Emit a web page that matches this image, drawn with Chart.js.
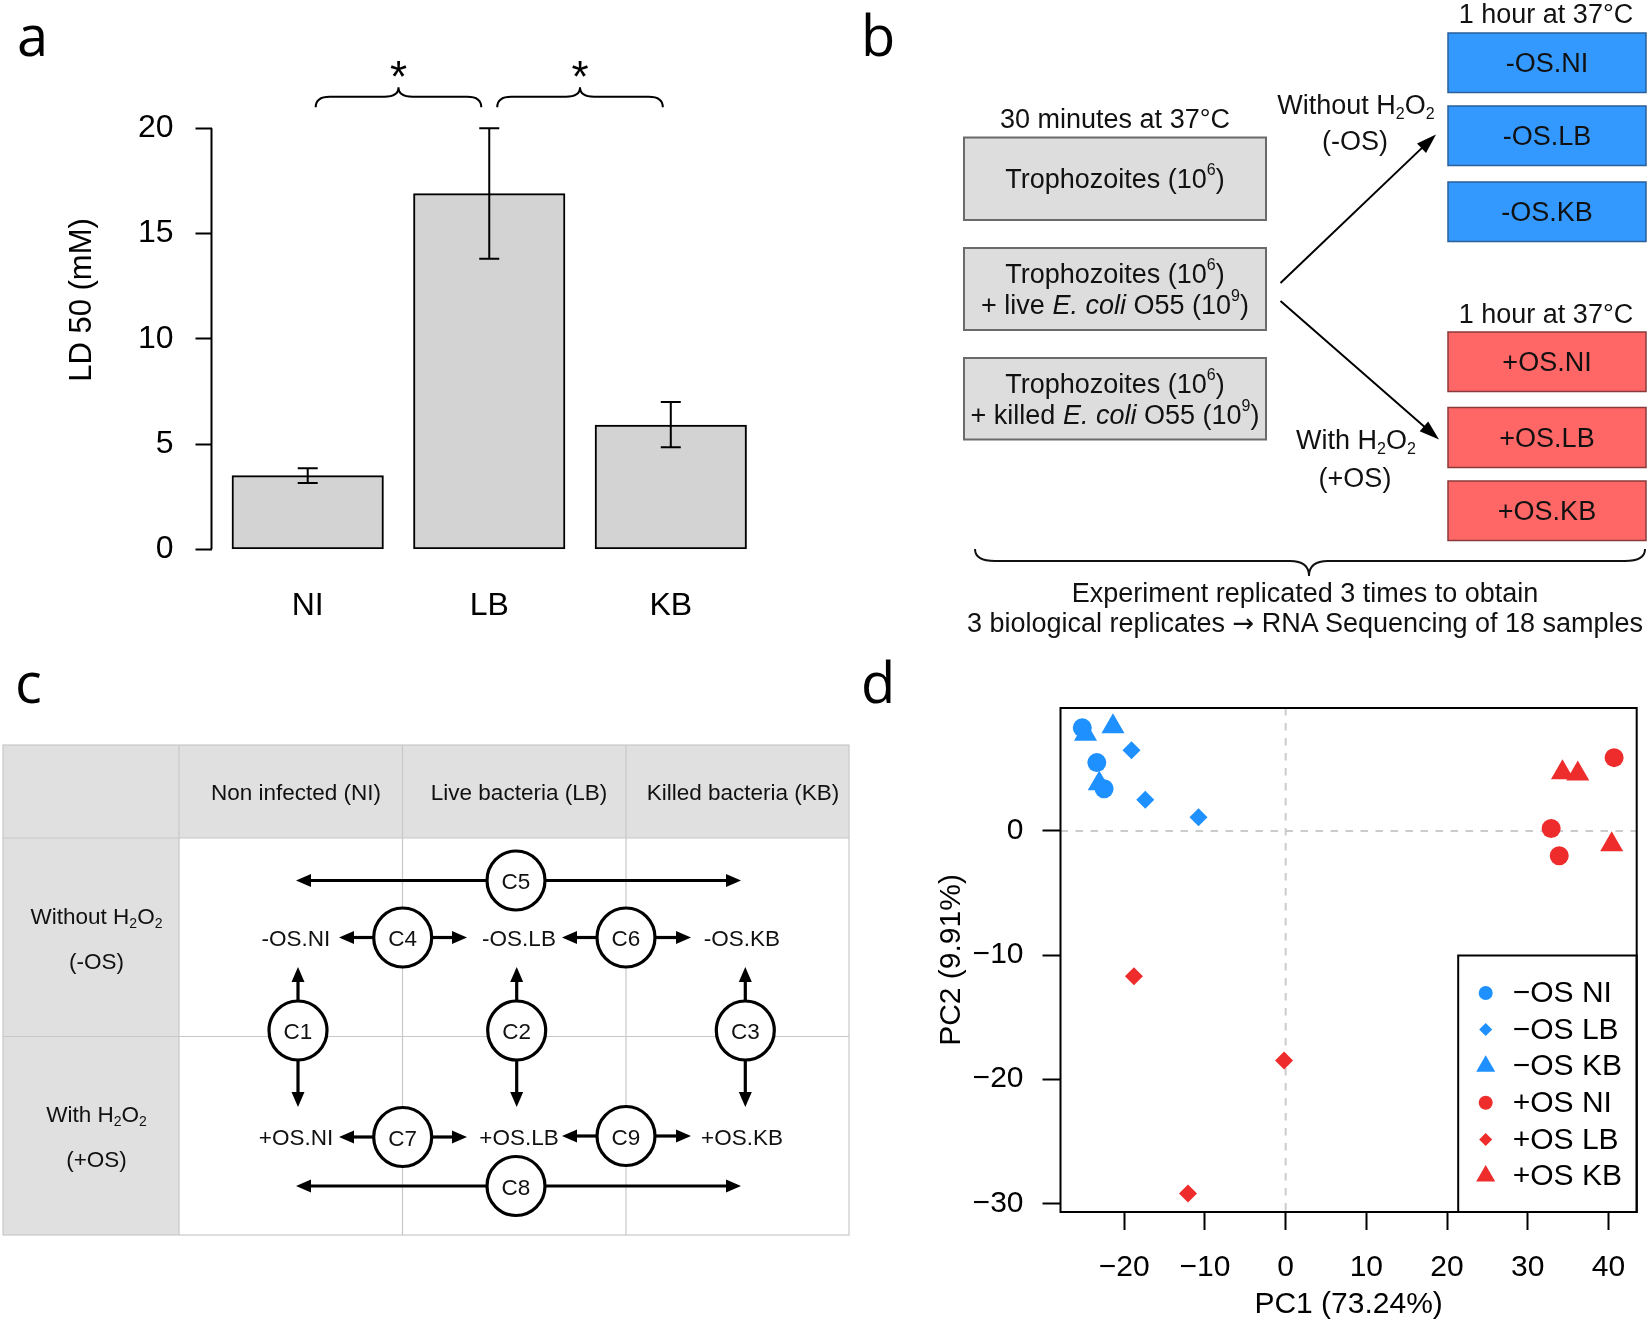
<!DOCTYPE html>
<html><head><meta charset="utf-8">
<script src="https://cdn.jsdelivr.net/npm/chart.js@4.4.1/dist/chart.umd.min.js"></script>
<style>
html,body{margin:0;padding:0;background:#fff;}
#page{position:relative;width:1650px;height:1325px;overflow:hidden;background:#fff;}
canvas{position:absolute;}
#ca{left:0;top:0;}
#cd{left:860px;top:620px;}
#diag{position:absolute;left:0;top:0;}
</style></head><body>
<div id="page">
<canvas id="ca" width="830" height="650"></canvas>
<canvas id="cd" width="790" height="705"></canvas>
<svg id="diag" width="1650" height="1325" xmlns="http://www.w3.org/2000/svg">
 <g font-family="Open Sans, sans-serif" font-size="56" fill="#000">
  <text x="17" y="56">a</text>
  <text x="861" y="56">b</text>
  <text x="15" y="703">c</text>
  <text x="861" y="703">d</text>
 </g>
 <g id="pb" font-family="Liberation Sans, Arial, sans-serif" font-size="27" fill="#111" text-anchor="middle" dominant-baseline="central">
  <text x="1115" y="119">30 minutes at 37°C</text>
  <rect x="964" y="137.5" width="302" height="82.5" fill="#dddddd" stroke="#6a6a6a" stroke-width="2"/>
  <rect x="964" y="248" width="302" height="82" fill="#dddddd" stroke="#6a6a6a" stroke-width="2"/>
  <rect x="964" y="358" width="302" height="81.5" fill="#dddddd" stroke="#6a6a6a" stroke-width="2"/>
  <text x="1115" y="179">Trophozoites (10<tspan font-size="16" dy="-10">6</tspan><tspan dy="10">)</tspan></text>
  <text x="1115" y="274">Trophozoites (10<tspan font-size="16" dy="-10">6</tspan><tspan dy="10">)</tspan></text>
  <text x="1115" y="305">+ live <tspan font-style="italic">E. coli</tspan> O55 (10<tspan font-size="16" dy="-10">9</tspan><tspan dy="10">)</tspan></text>
  <text x="1115" y="384">Trophozoites (10<tspan font-size="16" dy="-10">6</tspan><tspan dy="10">)</tspan></text>
  <text x="1115" y="415">+ killed <tspan font-style="italic">E. coli</tspan> O55 (10<tspan font-size="16" dy="-10">9</tspan><tspan dy="10">)</tspan></text>
  <text x="1356" y="105">Without H<tspan font-size="16" dy="8">2</tspan><tspan dy="-8">O</tspan><tspan font-size="16" dy="8">2</tspan></text>
  <text x="1355" y="141">(-OS)</text>
  <text x="1356" y="440">With H<tspan font-size="16" dy="8">2</tspan><tspan dy="-8">O</tspan><tspan font-size="16" dy="8">2</tspan></text>
  <text x="1355" y="478">(+OS)</text>
  <text x="1546" y="14">1 hour at 37°C</text>
  <text x="1546" y="314">1 hour at 37°C</text>
  <rect x="1448" y="33" width="198" height="59.5" fill="#3399ff" stroke="#2a5f99" stroke-width="1.5"/>
  <rect x="1448" y="106" width="198" height="59.5" fill="#3399ff" stroke="#2a5f99" stroke-width="1.5"/>
  <rect x="1448" y="182" width="198" height="59.5" fill="#3399ff" stroke="#2a5f99" stroke-width="1.5"/>
  <rect x="1448" y="332" width="198" height="59.5" fill="#ff6666" stroke="#8a3a3a" stroke-width="1.5"/>
  <rect x="1448" y="407.5" width="198" height="60" fill="#ff6666" stroke="#8a3a3a" stroke-width="1.5"/>
  <rect x="1448" y="481" width="198" height="59.5" fill="#ff6666" stroke="#8a3a3a" stroke-width="1.5"/>
  <text x="1547" y="63">-OS.NI</text>
  <text x="1547" y="136">-OS.LB</text>
  <text x="1547" y="212">-OS.KB</text>
  <text x="1547" y="362">+OS.NI</text>
  <text x="1547" y="438">+OS.LB</text>
  <text x="1547" y="511">+OS.KB</text>
  <path d="M975 549 Q975 561 995 561 L1290 561 Q1309 561 1309 576 Q1309 561 1328 561 L1625 561 Q1645 561 1645 549" fill="none" stroke="#111" stroke-width="2"/>
  <text x="1305" y="593">Experiment replicated 3 times to obtain</text>
  <text x="1305" y="623">3 biological replicates <tspan font-family="DejaVu Sans" font-size="26">→</tspan> RNA Sequencing of 18 samples</text>
 </g>
 <g id="pc" font-family="Liberation Sans, Arial, sans-serif" font-size="22.5" fill="#111" text-anchor="middle" dominant-baseline="central">
  <rect x="3" y="745" width="846" height="93" fill="#e0e0e0"/>
  <rect x="3" y="838" width="176" height="397" fill="#e0e0e0"/>
  <g stroke="#c8c8c8" stroke-width="1.2" fill="none">
   <rect x="3" y="745" width="846" height="490"/>
   <line x1="179" y1="745" x2="179" y2="1235"/>
   <line x1="402.5" y1="745" x2="402.5" y2="1235"/>
   <line x1="626" y1="745" x2="626" y2="1235"/>
   <line x1="3" y1="838" x2="849" y2="838"/>
   <line x1="3" y1="1036.5" x2="849" y2="1036.5"/>
  </g>
  <text x="296" y="792">Non infected (NI)</text>
  <text x="519" y="792">Live bacteria (LB)</text>
  <text x="743" y="792">Killed bacteria (KB)</text>
  <text x="96.5" y="916">Without H<tspan font-size="14" dy="7">2</tspan><tspan dy="-7">O</tspan><tspan font-size="14" dy="7">2</tspan></text>
  <text x="96.5" y="961">(-OS)</text>
  <text x="96.5" y="1114">With H<tspan font-size="14" dy="7">2</tspan><tspan dy="-7">O</tspan><tspan font-size="14" dy="7">2</tspan></text>
  <text x="96.5" y="1159">(+OS)</text>
  <text x="296" y="938">-OS.NI</text>
  <text x="519" y="938">-OS.LB</text>
  <text x="742" y="938">-OS.KB</text>
  <text x="296" y="1137">+OS.NI</text>
  <text x="519" y="1137">+OS.LB</text>
  <text x="742" y="1137">+OS.KB</text>
 </g>
</svg>
</div>
<script>
// ---------- Panel a data ----------
const categoriesA = ['NI', 'LB', 'KB'];
const barPosA = [0.7, 1.9, 3.1];
const ld50Values = [3.5, 16.9, 5.9];
const ld50ErrLow = [3.15, 13.8, 4.85];
const ld50ErrHigh = [3.85, 20.0, 7.0];
const yTicksA = [0, 5, 10, 15, 20];
const signifPairs = [[0, 1], [1, 2]];

// ---------- Panel d data ----------
const groupLabels = ['\u2212OS NI', '\u2212OS LB', '\u2212OS KB', '+OS NI', '+OS LB', '+OS KB'];
const pc1NegNI = [-25.2, -23.4, -22.5], pc2NegNI = [8.3, 5.5, 3.4];
const pc1NegLB = [-19.1, -17.4, -10.8], pc2NegLB = [6.5, 2.5, 1.1];
const pc1NegKB = [-21.4, -24.8, -23.1], pc2NegKB = [8.4, 7.8, 3.8];
const pc1PosNI = [40.7, 32.9, 33.9], pc2PosNI = [5.9, 0.2, -2.0];
const pc1PosLB = [-18.8, -0.2, -12.1], pc2PosLB = [-11.7, -18.5, -29.2];
const pc1PosKB = [34.3, 36.2, 40.4], pc2PosKB = [4.7, 4.6, -1.1];
const xTicksD = [-20, -10, 0, 10, 20, 30, 40];
const yTicksD = [-30, -20, -10, 0];

const FONT = "'Liberation Sans', Arial, sans-serif";
Chart.defaults.font.family = FONT;
Chart.defaults.color = '#000';
const minus = v => v < 0 ? '\u2212' + Math.abs(v) : String(v);

// ---------- Panel a ----------
const panelAExtras = {
  id: 'panelAExtras',
  afterDatasetsDraw(chart) {
    const { ctx, scales: { x, y }, chartArea } = chart;
    ctx.save();
    ctx.strokeStyle = '#000';
    ctx.lineWidth = 2;
    ctx.beginPath();
    ctx.moveTo(chartArea.left, y.getPixelForValue(yTicksA[0]));
    ctx.lineTo(chartArea.left, y.getPixelForValue(yTicksA[yTicksA.length - 1]));
    ctx.stroke();
    barPosA.forEach((p, i) => {
      const px = x.getPixelForValue(p);
      const lo = y.getPixelForValue(ld50ErrLow[i]);
      const hi = y.getPixelForValue(ld50ErrHigh[i]);
      ctx.beginPath();
      ctx.moveTo(px, lo); ctx.lineTo(px, hi);
      ctx.moveTo(px - 10, lo); ctx.lineTo(px + 10, lo);
      ctx.moveTo(px - 10, hi); ctx.lineTo(px + 10, hi);
      ctx.stroke();
    });
    // significance braces
    const yEnd = y.getPixelForValue(21.0), yFlat = y.getPixelForValue(21.5), yPeak = y.getPixelForValue(21.95);
    const yStar = y.getPixelForValue(22.9);
    signifPairs.forEach(([a, b]) => {
      const x1 = x.getPixelForValue(barPosA[a]) + 8;
      const x2 = x.getPixelForValue(barPosA[b]) - 8;
      const mid = (x.getPixelForValue(barPosA[a]) + x.getPixelForValue(barPosA[b])) / 2;
      const r = 14;
      ctx.beginPath();
      ctx.moveTo(x1, yEnd);
      ctx.quadraticCurveTo(x1, yFlat, x1 + r, yFlat);
      ctx.lineTo(mid - r, yFlat);
      ctx.quadraticCurveTo(mid, yFlat, mid, yPeak);
      ctx.quadraticCurveTo(mid, yFlat, mid + r, yFlat);
      ctx.lineTo(x2 - r, yFlat);
      ctx.quadraticCurveTo(x2, yFlat, x2, yEnd);
      ctx.stroke();
      ctx.fillStyle = '#000';
      ctx.font = '44px ' + FONT;
      ctx.textAlign = 'center';
      ctx.textBaseline = 'alphabetic';
      ctx.fillText('*', mid, yStar + 0.55 * 44);
    });
    ctx.restore();
  }
};

new Chart(document.getElementById('ca'), {
  type: 'bar',
  data: {
    datasets: [{
      data: barPosA.map((p, i) => ({ x: p, y: ld50Values[i] })),
      backgroundColor: '#d3d3d3',
      borderColor: '#000',
      borderWidth: 2,
      borderSkipped: false,
      barThickness: 151.5
    }]
  },
  options: {
    responsive: false, animation: false, events: [],
    layout: { padding: { left: 0, right: 63, top: 50.7, bottom: 0 } },
    plugins: { legend: { display: false }, tooltip: { enabled: false } },
    scales: {
      x: {
        type: 'linear', min: 0.064, max: 3.736, offset: false,
        grid: { display: false, drawTicks: false, offset: false },
        border: { display: false },
        afterBuildTicks: s => { s.ticks = barPosA.map(v => ({ value: v })); },
        afterFit: s => { s.height = 100.7; },
        ticks: { autoSkip: false, maxRotation: 0, padding: 38, font: { size: 32 }, color: '#000',
                 callback: (v, i) => categoriesA[i] }
      },
      y: {
        min: 0, max: 23.69,
        afterBuildTicks: s => { s.ticks = yTicksA.map(v => ({ value: v })); },
        afterFit: s => { s.width = 211.5; },
        grid: { drawOnChartArea: false, drawTicks: true, tickLength: 16, tickWidth: 2, tickColor: '#000' },
        border: { display: false },
        ticks: { padding: 22, font: { size: 32 }, color: '#000' },
        title: { display: true, text: 'LD 50 (mM)', font: { size: 31 }, color: '#000', padding: { top: 63.4, bottom: 0 } }
      }
    }
  },
  plugins: [panelAExtras]
});

// ---------- Panel d ----------
const blue = '#1e90ff', red = '#ee2c2c';
const groups = [
  { xs: pc1NegNI, ys: pc2NegNI, style: 'circle', color: blue, r: 9.5, lr: 7 },
  { xs: pc1NegLB, ys: pc2NegLB, style: 'rectRot', color: blue, r: 9, lr: 6.5 },
  { xs: pc1NegKB, ys: pc2NegKB, style: 'triangle', color: blue, r: 13.3, lr: 11 },
  { xs: pc1PosNI, ys: pc2PosNI, style: 'circle', color: red, r: 9.5, lr: 7 },
  { xs: pc1PosLB, ys: pc2PosLB, style: 'rectRot', color: red, r: 9, lr: 6.5 },
  { xs: pc1PosKB, ys: pc2PosKB, style: 'triangle', color: red, r: 13.3, lr: 11 }
];

const panelDExtras = {
  id: 'panelDExtras',
  beforeDatasetsDraw(chart) {
    const { ctx, scales: { x, y }, chartArea: ca } = chart;
    ctx.save();
    ctx.strokeStyle = '#cccccc';
    ctx.lineWidth = 2;
    ctx.setLineDash([7.5, 7.5]);
    const x0 = x.getPixelForValue(0), y0 = y.getPixelForValue(0);
    ctx.beginPath();
    ctx.moveTo(x0, ca.top); ctx.lineTo(x0, ca.bottom);
    ctx.moveTo(ca.left, y0); ctx.lineTo(ca.right, y0);
    ctx.stroke();
    ctx.restore();
  },
  afterDraw(chart) {
    const { ctx, chartArea: ca } = chart;
    ctx.save();
    const lw = 178.5, lh = 256.5;
    const lx = ca.right - lw, ly = ca.bottom - lh;
    ctx.fillStyle = '#fff';
    ctx.fillRect(lx, ly, lw, lh);
    ctx.strokeStyle = '#000';
    ctx.lineWidth = 2;
    ctx.strokeRect(lx, ly, lw, lh);
    chart.data.datasets.forEach((ds, i) => {
      const cy = ly + 37.5 + i * 36.6;
      ctx.fillStyle = ds.backgroundColor;
      Chart.helpers.drawPoint(ctx, { pointStyle: ds.pointStyle, radius: groups[i].lr, rotation: 0, borderWidth: 0 }, lx + 27.5, cy);
      ctx.fillStyle = '#000';
      ctx.font = '30px ' + FONT;
      ctx.textAlign = 'left';
      ctx.textBaseline = 'middle';
      ctx.fillText(ds.label, lx + 54.5, cy + 1);
    });
    ctx.strokeStyle = '#000';
    ctx.lineWidth = 2;
    ctx.strokeRect(ca.left, ca.top, ca.right - ca.left, ca.bottom - ca.top);
    ctx.restore();
  }
};

new Chart(document.getElementById('cd'), {
  type: 'scatter',
  data: {
    datasets: groups.map((g, i) => ({
      label: groupLabels[i],
      data: g.xs.map((v, j) => ({ x: v, y: g.ys[j] })),
      pointStyle: g.style,
      pointRadius: g.r,
      backgroundColor: g.color,
      borderWidth: 0,
      showLine: false
    }))
  },
  options: {
    responsive: false, animation: false, events: [],
    layout: { padding: { left: 0, right: 12.5, top: 88, bottom: 0 } },
    plugins: { legend: { display: false }, tooltip: { enabled: false } },
    scales: {
      x: {
        type: 'linear', min: -27.9, max: 43.5,
        afterBuildTicks: s => { s.ticks = xTicksD.map(v => ({ value: v })); },
        afterFit: s => { s.height = 113; },
        grid: { drawOnChartArea: false, drawTicks: true, tickLength: 18, tickWidth: 2, tickColor: '#000' },
        border: { display: false },
        ticks: { autoSkip: false, maxRotation: 0, padding: 20, font: { size: 30 }, color: '#000', callback: v => minus(v) },
        title: { display: true, text: 'PC1 (73.24%)', font: { size: 30 }, color: '#000', padding: { top: 0, bottom: 2 } }
      },
      y: {
        type: 'linear', min: -30.7, max: 9.9,
        afterBuildTicks: s => { s.ticks = yTicksD.map(v => ({ value: v })); },
        afterFit: s => { s.width = 200.5; },
        grid: { drawOnChartArea: false, drawTicks: true, tickLength: 18, tickWidth: 2, tickColor: '#000' },
        border: { display: false },
        ticks: { padding: 19, font: { size: 30 }, color: '#000', callback: v => minus(v) },
        title: { display: true, text: 'PC2 (9.91%)', font: { size: 30 }, color: '#000', padding: { top: 74, bottom: 0 } }
      }
    }
  },
  plugins: [panelDExtras]
});

// ---------- Diagram arrows (panels b and c) ----------
const NS = 'http://www.w3.org/2000/svg';
const svg = document.getElementById('diag');
function add(tag, attrs, parent) {
  const e = document.createElementNS(NS, tag);
  for (const k in attrs) e.setAttribute(k, attrs[k]);
  (parent || svg).appendChild(e);
  return e;
}
function arrow(x1, y1, x2, y2, w, hl, hw, parent) {
  const dx = x2 - x1, dy = y2 - y1, L = Math.hypot(dx, dy), ux = dx / L, uy = dy / L;
  const bx = x2 - ux * hl, by = y2 - uy * hl;
  add('line', { x1, y1, x2: bx + ux, y2: by + uy, stroke: '#000', 'stroke-width': w }, parent);
  add('polygon', { points: `${x2},${y2} ${bx - uy * hw},${by + ux * hw} ${bx + uy * hw},${by - ux * hw}`, fill: '#000' }, parent);
}
const pb = document.getElementById('pb');
arrow(1280.5, 283, 1436, 134.5, 2, 20, 6.5, pb);
arrow(1280.5, 301, 1439, 439.5, 2, 20, 6.5, pb);

const pc = document.getElementById('pc');
const R = 29;
function node(cx, cy, label) {
  add('ellipse', { cx, cy, rx: R, ry: R + 0.5, fill: '#fff', stroke: '#000', 'stroke-width': 3.2 }, pc);
  const t = add('text', { x: cx, y: cy + 1 }, pc);
  t.textContent = label;
}
function hNode(cx, cy, lt, rt, label) {
  arrow(cx - R, cy, lt, cy, 3.2, 15, 6.5, pc);
  arrow(cx + R, cy, rt, cy, 3.2, 15, 6.5, pc);
  node(cx, cy, label);
}
function vNode(cx, cy, ut, dt, label) {
  arrow(cx, cy - R, cx, ut, 3.2, 15, 6.5, pc);
  arrow(cx, cy + R, cx, dt, 3.2, 15, 6.5, pc);
  node(cx, cy, label);
}
hNode(516, 880.5, 296, 741, 'C5');
hNode(402.7, 937.5, 339, 467, 'C4');
hNode(626, 937.5, 562, 691, 'C6');
vNode(298, 1030.5, 967, 1107, 'C1');
vNode(516.7, 1030.5, 967, 1107, 'C2');
vNode(745.3, 1030.5, 967, 1107, 'C3');
hNode(402.7, 1137, 339, 467, 'C7');
hNode(626, 1136, 562, 691, 'C9');
hNode(516, 1186, 296, 741, 'C8');
</script>
</body></html>
